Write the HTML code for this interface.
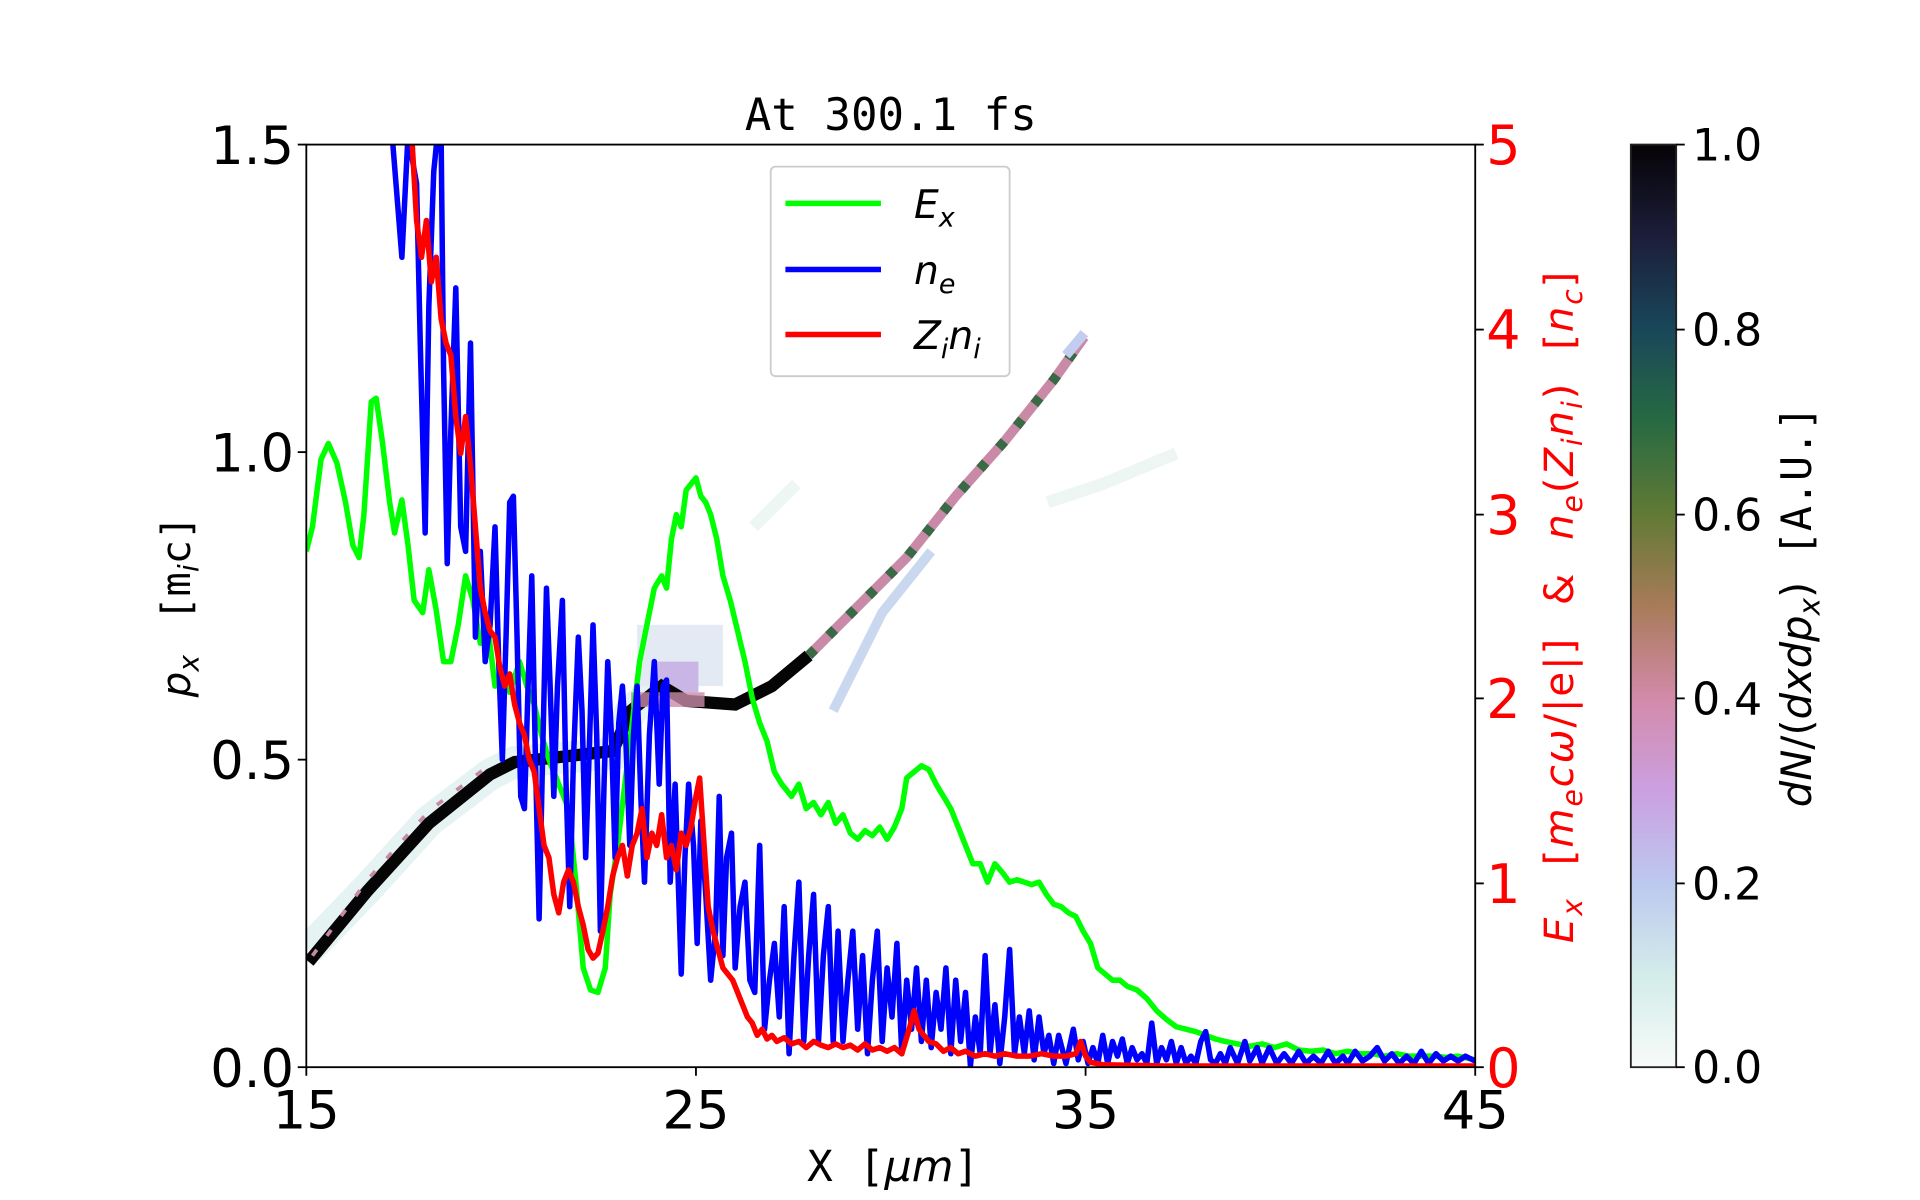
<!DOCTYPE html>
<html><head><meta charset="utf-8"><style>html,body{margin:0;padding:0;background:#fff;}svg{display:block}</style></head>
<body>
<svg width="1920" height="1200" viewBox="0 0 1567 979.4" preserveAspectRatio="none" xmlns="http://www.w3.org/2000/svg">
<defs>
<linearGradient id="cb" x1="0" y1="1" x2="0" y2="0">
<stop offset="0" stop-color="#f7fbf8"/><stop offset="0.1" stop-color="#d3ecea"/><stop offset="0.2" stop-color="#bcc8ef"/>
<stop offset="0.3" stop-color="#cba0e0"/><stop offset="0.4" stop-color="#d38aaa"/><stop offset="0.5" stop-color="#a87b58"/>
<stop offset="0.6" stop-color="#617a35"/><stop offset="0.7" stop-color="#276a42"/><stop offset="0.8" stop-color="#19475a"/>
<stop offset="0.9" stop-color="#1c1d3a"/><stop offset="1" stop-color="#060306"/></linearGradient>
<clipPath id="ax"><rect x="250" y="118" width="954" height="753"/></clipPath>
</defs>
<g font-family="DejaVu Sans, Liberation Sans, sans-serif">
<text x="727" y="106" font-family="DejaVu Sans Mono, Liberation Mono, monospace" font-size="36" text-anchor="middle">At 300.1 fs</text>
<g clip-path="url(#ax)">
<polyline points="252,775 300,725 350,670 400,632 420,622 500,615 515,580 540,560" fill="none" stroke="#dff0ef" stroke-width="26" opacity="0.8"/>
<rect x="520" y="510" width="70" height="50" fill="#e4eaf4"/>
<rect x="535" y="540" width="35" height="25" fill="#c9b6e6"/>
<polyline points="680,580 720,500 760,450" fill="none" stroke="#cad8ef" stroke-width="8"/>
<polyline points="615,430 650,395" fill="none" stroke="#eef6f4" stroke-width="10"/>
<polyline points="855,410 900,395 960,370" fill="none" stroke="#eef6f4" stroke-width="10"/>
<polyline points="252,785 300,727 350,672 400,632 420,622 500,613 515,580 540,560 560,572 600,575 630,560 660,535" fill="none" stroke="#050505" stroke-width="10"/>
<polyline points="255,780 300,718 350,662 400,624" fill="none" stroke="#c68aa5" stroke-width="3" stroke-dasharray="6 14"/>
<rect x="515" y="565" width="60" height="12" fill="#c98ba6" opacity="0.8"/>
<polyline points="660,535 700,495 740,455 780,405 820,360 860,310 885,275" fill="none" stroke="#c98aa8" stroke-width="8"/>
<polyline points="660,535 700,495 740,455 780,405 820,360 860,310 885,275" fill="none" stroke="#3a6a45" stroke-width="8" stroke-dasharray="7 16"/>
<polyline points="870,290 885,272" fill="none" stroke="#c2cdf0" stroke-width="8"/>
<polyline fill="none" stroke="#00ff00" stroke-width="4.5" stroke-linejoin="round" points="250,450 255,430 262,375 268,362 275,378 282,410 288,445 293,455 297,420 303,328 307,325 312,360 318,410 322,435 328,408 333,445 338,490 345,500 350,465 356,498 362,540 368,540 374,510 380,470 386,490 392,525 398,510 404,560 410,545 416,565 424,540 430,560 436,575 442,600 448,620 456,640 464,660 470,720 476,790 482,808 488,810 494,790 498,730 504,690 510,640 516,590 522,540 528,510 534,480 540,470 544,480 548,440 552,420 556,430 560,400 564,395 568,390 572,405 576,410 580,420 585,440 590,470 596,490 602,515 608,540 614,570 620,590 626,605 632,630 638,640 646,650 652,640 658,660 664,655 670,665 676,655 682,672 688,665 694,680 700,685 706,678 712,682 718,675 724,685 730,675 736,660 740,635 746,630 752,625 758,628 764,640 770,650 776,660 782,675 788,690 794,705 800,705 806,720 812,705 818,712 824,720 830,718 836,720 842,722 848,720 854,730 860,738 866,740 872,745 878,748 884,760 890,770 896,790 902,795 908,800 914,800 920,805 928,808 936,815 944,825 952,832 960,838 968,840 976,842 984,845 992,848 1000,850 1010,852 1020,854 1030,852 1040,855 1050,852 1060,857 1070,858 1080,857 1090,860 1100,858 1110,860 1120,860 1130,862 1140,860 1150,862 1160,862 1170,862 1180,863 1190,862 1204,865"/>
<polyline fill="none" stroke="#0000ff" stroke-width="4.5" stroke-linejoin="round" points="320,110 328,210 333,110 340,150 343,280 347,435 350,250 354,140 357,110 360,110 362,300 365,460 368,350 372,235 376,430 380,450 384,280 388,520 392,450 396,540 400,510 404,430 407,540 410,620 413,520 416,410 419,405 422,520 425,650 428,660 431,560 434,470 437,620 440,750 443,610 446,480 449,560 452,650 455,560 459,490 462,640 465,740 468,620 472,520 475,580 478,700 481,610 484,510 487,600 490,760 493,640 496,540 499,600 502,700 505,590 508,560 511,610 514,690 517,600 520,560 523,650 526,720 530,600 534,540 538,640 541,560 544,555 547,720 551,640 556,795 559,700 562,640 566,690 569,770 572,670 576,730 580,800 584,760 587,650 590,780 593,700 597,680 600,790 604,740 608,720 612,800 616,810 620,690 624,840 628,800 632,770 636,830 640,740 644,860 648,780 652,720 656,850 660,780 664,730 668,850 672,780 676,740 680,850 684,760 688,850 692,800 696,760 700,840 704,780 708,860 712,800 716,760 720,850 724,790 728,830 732,770 736,860 740,800 744,840 748,790 752,850 756,800 760,855 764,810 768,840 772,790 776,860 780,800 784,850 788,810 792,870 796,830 800,860 804,780 808,860 812,820 816,868 820,830 824,775 828,860 832,830 836,860 840,825 844,865 848,830 852,860 856,845 860,868 864,845 870,868 876,840 880,865 884,850 888,868 892,855 896,868 900,845 904,868 908,850 912,862 916,848 920,868 924,855 928,865 932,860 936,868 940,835 944,868 948,855 952,865 956,850 960,868 964,855 968,868 972,862 976,868 980,850 984,842 988,865 992,868 996,860 1000,868 1004,855 1010,868 1016,850 1020,866 1026,855 1030,868 1036,855 1042,868 1048,860 1054,868 1060,858 1066,868 1072,862 1078,868 1084,858 1090,868 1096,862 1100,868 1106,858 1112,866 1118,862 1124,855 1130,866 1136,860 1142,868 1148,862 1154,868 1160,858 1166,868 1172,860 1178,866 1184,862 1190,866 1196,862 1204,866"/>
<polyline fill="none" stroke="#ff0000" stroke-width="4.5" stroke-linejoin="round" points="336,110 340,180 344,210 348,180 352,230 356,210 360,260 364,280 368,290 372,340 376,370 380,340 384,380 388,430 392,480 396,500 400,515 404,520 408,545 412,560 416,550 420,575 424,590 428,600 432,620 436,630 440,660 444,690 448,700 452,730 456,745 460,720 464,710 468,720 472,740 476,755 480,775 484,782 488,778 492,760 496,740 500,715 504,700 508,690 512,715 516,690 520,680 524,660 528,700 532,680 536,690 540,665 544,700 548,690 552,710 556,680 560,690 564,675 568,650 571,635 574,680 578,740 582,760 586,775 590,790 594,795 598,800 602,810 606,820 610,830 614,835 618,845 622,840 626,848 630,845 634,850 640,847 646,852 652,850 658,855 664,850 670,853 676,855 682,852 688,855 694,853 700,857 706,852 712,857 718,855 724,858 730,855 736,860 742,840 746,825 750,840 754,845 758,850 764,852 770,858 776,855 782,860 788,858 796,862 804,860 812,862 820,860 830,862 840,862 850,860 860,862 870,862 878,860 882,850 886,862 890,867 900,869 950,870 1000,870 1204,870"/>
</g>
<rect x="250" y="118" width="954" height="753" fill="none" stroke="#000" stroke-width="1.5"/>
<rect x="629" y="136" width="195" height="171" rx="4" fill="#fff" fill-opacity="0.8" stroke="#ccc" stroke-width="1.5"/>
<line x1="641" y1="166" x2="719" y2="166" stroke="#00ff00" stroke-width="4.5"/>
<line x1="641" y1="220" x2="719" y2="220" stroke="#0000ff" stroke-width="4.5"/>
<line x1="641" y1="273" x2="719" y2="273" stroke="#ff0000" stroke-width="4.5"/>
<g font-size="32" font-style="italic">
<text x="746" y="178">E<tspan font-size="22" dy="7">x</tspan></text>
<text x="746" y="232">n<tspan font-size="22" dy="7">e</tspan></text>
<text x="746" y="285">Z<tspan font-size="22" dy="7">i</tspan><tspan dy="-7">n</tspan><tspan font-size="22" dy="7">i</tspan></text>
</g>
<g stroke="#000" stroke-width="1.5"><line x1="243" y1="118" x2="250" y2="118"/><line x1="243" y1="369" x2="250" y2="369"/><line x1="243" y1="620" x2="250" y2="620"/><line x1="243" y1="871" x2="250" y2="871"/>
<line x1="250" y1="871" x2="250" y2="878"/><line x1="568" y1="871" x2="568" y2="878"/><line x1="886" y1="871" x2="886" y2="878"/><line x1="1204" y1="871" x2="1204" y2="878"/></g>
<g font-size="43" text-anchor="end"><text x="240" y="134">1.5</text><text x="240" y="385">1.0</text><text x="240" y="636">0.5</text><text x="240" y="887">0.0</text></g>
<g font-size="43" text-anchor="middle"><text x="250" y="921">15</text><text x="568" y="921">25</text><text x="886" y="921">35</text><text x="1204" y="921">45</text></g>
<text x="729" y="964" font-size="35" text-anchor="middle" font-family="DejaVu Sans Mono, monospace">X [<tspan font-style="italic" font-family="DejaVu Sans">μm</tspan>]</text>
<text transform="translate(155,495) rotate(-90)" font-size="33" text-anchor="middle" word-spacing="8"><tspan font-style="italic">p</tspan><tspan font-style="italic" font-size="23" dy="7">x</tspan><tspan dy="-7" font-family="DejaVu Sans Mono, monospace"> [m</tspan><tspan font-size="23" dy="7" font-style="italic">i</tspan><tspan dy="-7" font-family="DejaVu Sans Mono, monospace">c]</tspan></text>
<g stroke="#000" stroke-width="1.5"><line x1="1204" y1="118" x2="1211" y2="118"/><line x1="1204" y1="269" x2="1211" y2="269"/><line x1="1204" y1="420" x2="1211" y2="420"/><line x1="1204" y1="570" x2="1211" y2="570"/><line x1="1204" y1="721" x2="1211" y2="721"/><line x1="1204" y1="871" x2="1211" y2="871"/></g>
<g font-size="44" fill="#ff0000"><text x="1213" y="134">5</text><text x="1213" y="285">4</text><text x="1213" y="436">3</text><text x="1213" y="586">2</text><text x="1213" y="737">1</text><text x="1213" y="887">0</text></g>
<text transform="translate(1284,495) rotate(-90)" font-size="33" fill="#ff0000" text-anchor="middle" word-spacing="14" letter-spacing="1.5"><tspan font-style="italic">E</tspan><tspan font-style="italic" font-size="23" dy="7">x</tspan><tspan dy="-7"> [</tspan><tspan font-style="italic">m</tspan><tspan font-style="italic" font-size="23" dy="7">e</tspan><tspan dy="-7" font-style="italic">cω</tspan><tspan>/|e|] &amp; </tspan><tspan font-style="italic">n</tspan><tspan font-style="italic" font-size="23" dy="7">e</tspan><tspan dy="-7">(</tspan><tspan font-style="italic">Z</tspan><tspan font-style="italic" font-size="23" dy="7">i</tspan><tspan font-style="italic" dy="-7">n</tspan><tspan font-style="italic" font-size="23" dy="7">i</tspan><tspan dy="-7">) [</tspan><tspan font-style="italic">n</tspan><tspan font-style="italic" font-size="23" dy="7">c</tspan><tspan dy="-7">]</tspan></text>
<rect x="1331" y="118" width="37" height="753" fill="url(#cb)" stroke="#222" stroke-width="1.5"/>
<g stroke="#000" stroke-width="1.5"><line x1="1368" y1="118" x2="1375" y2="118"/><line x1="1368" y1="269" x2="1375" y2="269"/><line x1="1368" y1="420" x2="1375" y2="420"/><line x1="1368" y1="570" x2="1375" y2="570"/><line x1="1368" y1="721" x2="1375" y2="721"/><line x1="1368" y1="871" x2="1375" y2="871"/></g>
<g font-size="36"><text x="1381" y="131">1.0</text><text x="1381" y="282">0.8</text><text x="1381" y="433">0.6</text><text x="1381" y="583">0.4</text><text x="1381" y="734">0.2</text><text x="1381" y="884">0.0</text></g>
<text transform="translate(1478,495) rotate(-90)" font-size="34" text-anchor="middle" word-spacing="10"><tspan font-style="italic">dN</tspan><tspan>/(</tspan><tspan font-style="italic">dxdp</tspan><tspan font-style="italic" font-size="24" dy="7">x</tspan><tspan dy="-7">) </tspan><tspan font-family="DejaVu Sans Mono, monospace">[A.U.]</tspan></text>
</g>
</svg>
</body></html>
